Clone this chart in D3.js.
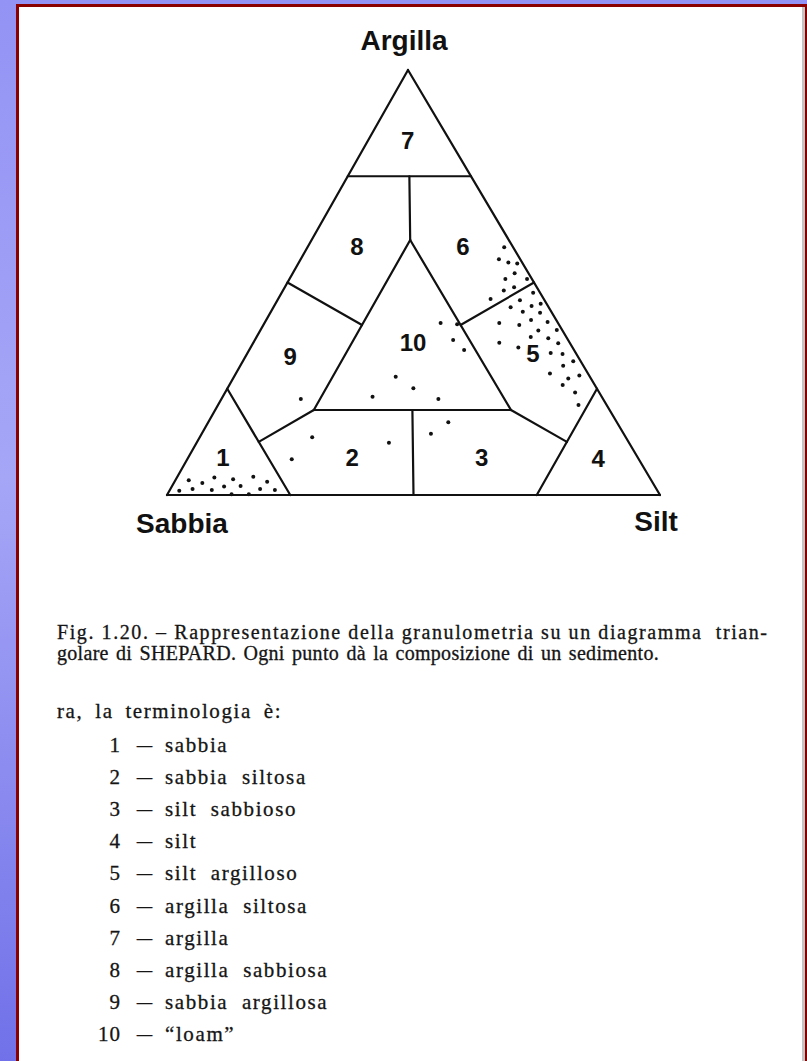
<!DOCTYPE html>
<html>
<head>
<meta charset="utf-8">
<script src="https://cdn.jsdelivr.net/npm/d3@7"></script>
<style>
  html, body { margin: 0; padding: 0; width: 807px; height: 1061px; overflow: hidden; background: #fff; }
  svg { display: block; }
</style>
</head>
<body>
<svg id="fig" width="807" height="1061"></svg>
<script>
// Compositions are written as [sabbia, silt, argilla] in percent.
const vertexNames = ["Sabbia", "Silt", "Argilla"];

// Boundary segments of Shepard's classification.
const boundaries = [
  [[100, 0, 0], [0, 100, 0]],
  [[0, 100, 0], [0, 0, 100]],
  [[0, 0, 100], [100, 0, 0]],
  [[25, 0, 75], [0, 25, 75]],
  [[12.5, 12.5, 75], [20, 20, 60]],
  [[20, 20, 60], [60, 20, 20]],
  [[60, 20, 20], [20, 60, 20]],
  [[20, 60, 20], [20, 20, 60]],
  [[50, 0, 50], [40, 20, 40]],
  [[0, 50, 50], [20, 40, 40]],
  [[75, 0, 25], [75, 25, 0]],
  [[75, 12.5, 12.5], [60, 20, 20]],
  [[40, 40, 20], [50, 50, 0]],
  [[20, 60, 20], [12.5, 75, 12.5]],
  [[0, 75, 25], [25, 75, 0]]
];

// Class numbers and where each one is written (ternary percent).
const classIds = ["1", "2", "3", "4", "5", "6", "7", "8", "9", "10"];
const classLabelAt = [
  [84.1, 7.0, 8.9], [57.9, 33.2, 8.9], [31.5, 59.5, 8.9], [8.2, 83.3, 8.5],
  [8.8, 58.0, 33.2], [10.1, 31.5, 58.4], [8.5, 8.0, 83.5], [31.6, 10.0, 58.4],
  [58.5, 9.1, 32.5], [31.8, 32.4, 35.8]
];
const classNames = [
  "sabbia", "sabbia  siltosa", "silt  sabbioso", "silt", "silt  argilloso",
  "argilla  siltosa", "argilla", "argilla  sabbiosa", "sabbia  argillosa", "\u201Cloam\u201D"
];

// Sediment samples (sabbia, silt, argilla %).
const samples = [
  // sand corner
  [93.7, 2.7, 3.5], [91.4, 5.8, 2.8], [88.3, 7.6, 4.1], [84.7, 11.6, 3.7],
  [80.3, 15.4, 4.3], [78.1, 18.8, 3.1], [97.0, 2.0, 1.0], [94.1, 4.5, 1.4],
  [90.3, 8.5, 1.2], [87.4, 10.6, 2.0], [84.0, 13.9, 2.1], [80.4, 18.2, 1.4],
  [77.5, 21.3, 1.2], [86.8, 13.0, 0.2], [83.3, 16.5, 0.2],
  // sandy mixtures
  [61.3, 16.1, 22.6], [63.6, 22.8, 13.6], [70.4, 21.2, 8.4], [48.7, 39.0, 12.3],
  // loam
  [39.4, 32.8, 27.8], [37.2, 37.7, 25.1], [46.4, 30.4, 23.1], [33.4, 44.0, 22.6],
  [23.8, 35.7, 40.5], [20.6, 39.2, 40.2], [23.3, 40.2, 36.5], [22.3, 43.6, 34.1],
  // sandy silt
  [34.2, 48.7, 17.1], [39.1, 46.5, 14.4],
  // clayey silt and silty clay
  [1.8, 39.9, 58.3], [4.3, 40.2, 55.5], [2.8, 42.5, 54.7], [1.1, 44.4, 54.5],
  [2.9, 45.0, 52.2], [5.5, 43.8, 50.8], [1.1, 48.2, 50.8], [7.1, 44.8, 48.1],
  [4.6, 46.5, 48.9], [10.8, 43.1, 46.1], [1.4, 51.0, 47.6], [5.0, 49.2, 45.8],
  [7.7, 48.1, 44.2], [3.3, 52.2, 44.5], [1.2, 53.8, 45.0], [5.8, 51.1, 43.1],
  [2.4, 54.7, 42.9], [11.9, 47.6, 40.5], [8.1, 51.9, 40.0], [5.2, 53.7, 41.2],
  [2.0, 57.3, 40.7], [4.9, 56.4, 38.7], [1.1, 60.1, 38.8], [7.2, 55.6, 37.2],
  [3.8, 59.3, 36.9], [2.4, 61.9, 35.7], [14.3, 49.9, 35.8], [11.0, 54.3, 34.7],
  [5.1, 61.5, 33.4], [2.8, 64.0, 33.2], [1.5, 67.0, 31.5], [4.1, 65.5, 30.4],
  [7.7, 63.7, 28.6], [4.6, 68.0, 27.4], [2.0, 69.9, 28.1], [6.5, 67.6, 25.9],
  [4.9, 71.0, 24.1], [5.7, 73.1, 21.2]
];

const captionLines = [
  "Fig. 1.20. \u2013 Rappresentazione della granulometria su un diagramma  trian-",
  "golare di SHEPARD. Ogni punto d\u00E0 la composizione di un sedimento."
];
const introLine = "ra, la terminologia \u00E8:";

// ---------- page frame ----------
const svg = d3.select("#fig");
const defs = svg.append("defs");
const bg = defs.append("linearGradient").attr("id", "bgGrad")
  .attr("x1", 0).attr("y1", 0).attr("x2", 0).attr("y2", 1);
bg.append("stop").attr("offset", "0%").attr("stop-color", "#9393f5");
bg.append("stop").attr("offset", "45%").attr("stop-color", "#a6a6f7");
bg.append("stop").attr("offset", "100%").attr("stop-color", "#7171e9");

svg.append("rect").attr("width", 807).attr("height", 1061).attr("fill", "url(#bgGrad)");
svg.append("rect").attr("x", 16).attr("y", 4).attr("width", 791).attr("height", 1061).attr("fill", "#8a0000");
svg.append("rect").attr("x", 19).attr("y", 7).attr("width", 786).attr("height", 1054).attr("fill", "#c4c4c4");
svg.append("rect").attr("x", 19).attr("y", 7).attr("width", 783).attr("height", 1054).attr("fill", "#ffffff");

// ---------- ternary projection ----------
const clayY = d3.scaleLinear().domain([0, 100]).range([495, 70]);
const leftEdgeX = d3.scaleLinear().domain([0, 100]).range([167, 408]);
const rightEdgeX = d3.scaleLinear().domain([0, 100]).range([660, 408]);
function project(p) {
  const silt = p[1], clay = p[2];
  const span = 100 - clay;
  const x = span > 0
    ? d3.scaleLinear().domain([0, span]).range([leftEdgeX(clay), rightEdgeX(clay)])(silt)
    : leftEdgeX(clay);
  return [x, clayY(clay)];
}

const ink = "#111111";
const plot = svg.append("g");

plot.selectAll("line.bound").data(boundaries).join("line")
  .attr("class", "bound")
  .attr("x1", d => project(d[0])[0]).attr("y1", d => project(d[0])[1])
  .attr("x2", d => project(d[1])[0]).attr("y2", d => project(d[1])[1])
  .attr("stroke", ink).attr("stroke-width", 2.2).attr("stroke-linecap", "round");

plot.selectAll("circle.sample").data(samples).join("circle")
  .attr("class", "sample")
  .attr("cx", d => project(d)[0]).attr("cy", d => project(d)[1])
  .attr("r", 2).attr("fill", ink);

plot.selectAll("text.cls").data(classIds).join("text")
  .attr("class", "cls")
  .attr("x", (d, i) => project(classLabelAt[i])[0])
  .attr("y", (d, i) => project(classLabelAt[i])[1])
  .attr("text-anchor", "middle").attr("dominant-baseline", "central")
  .attr("font-family", "Liberation Sans, Arial, sans-serif")
  .attr("font-weight", "bold").attr("font-size", 24).attr("fill", ink)
  .text(d => d);

// vertex names
const corners = [[100, 0, 0], [0, 100, 0], [0, 0, 100]];
const nameOffset = [[15, 38], [-4, 36], [-4, -20]];
plot.selectAll("text.vertex").data(vertexNames).join("text")
  .attr("class", "vertex")
  .attr("x", (d, i) => project(corners[i])[0] + nameOffset[i][0])
  .attr("y", (d, i) => project(corners[i])[1] + nameOffset[i][1])
  .attr("text-anchor", "middle")
  .attr("font-family", "Liberation Sans, Arial, sans-serif")
  .attr("font-weight", "bold").attr("font-size", 28).attr("fill", ink)
  .text(d => d);

// ---------- caption and legend ----------
const serif = "Liberation Serif, Times New Roman, serif";
const cap = svg.append("g").attr("font-family", serif).attr("fill", "#151515")
  .attr("stroke", "#151515").attr("stroke-width", 0.3);
cap.append("text").attr("x", 57).attr("y", 639).attr("font-size", 20)
  .attr("textLength", 710).attr("lengthAdjust", "spacing")
  .style("white-space", "pre")
  .text(captionLines[0]);
cap.append("text").attr("x", 57).attr("y", 660).attr("font-size", 20)
  .attr("letter-spacing", 0.3).attr("word-spacing", 2)
  .text(captionLines[1]);

cap.append("text").attr("x", 57).attr("y", 718).attr("font-size", 21)
  .attr("letter-spacing", 1.6).attr("word-spacing", 5)
  .text(introLine);

const rows = cap.selectAll("g.row").data(classNames).join("g")
  .attr("class", "row")
  .attr("transform", (d, i) => `translate(0,${752 + i * 32.1})`);
rows.append("text").attr("x", 121).attr("text-anchor", "end").attr("font-size", 21)
  .attr("letter-spacing", 1)
  .text((d, i) => classIds[i]);
rows.append("text").attr("x", 137).attr("font-size", 21)
  .attr("textLength", 15).attr("lengthAdjust", "spacingAndGlyphs")
  .text("\u2013");
rows.append("text").attr("x", 165).attr("font-size", 21)
  .attr("letter-spacing", 1.6)
  .style("white-space", "pre")
  .text(d => d);
</script>
</body>
</html>
